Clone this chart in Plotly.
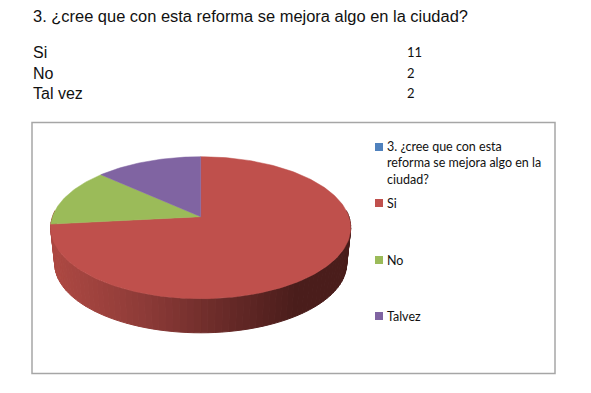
import math
import plotly.graph_objects as go

TITLE = "3. ¿cree que con esta reforma se mejora algo en la ciudad?"
categories = ["Si", "No", "Tal vez"]
values = [11, 2, 2]
legend_labels = ["3. ¿cree que con esta<br>reforma se mejora algo en la<br>ciudad?", "Si", "No", "Talvez"]
legend_colors = ["#4F81BD", "#C0504D", "#9BBB59", "#8064A2"]
slice_colors = ["#BF504C", "#9BBB59", "#8064A2"]

# perspective projection of the pie disc, in page pixels
CX, CY, A, B, K = 200.7, 216.7, 148.2, 69.3, 0.155
CY2, SCALE2 = 253.0, 0.973
PAGE_MARGIN = 8  # the browser's default body margin


def project(theta, cy=CY, scale=1.0):
    u, v = math.sin(theta), math.cos(theta)
    d = 1 + K * v
    return CX + scale * A * u / d, cy - scale * B * v / d


def mix(c1, c2, t):
    return "rgb(%d,%d,%d)" % tuple(round(a + (b - a) * t) for a, b in zip(c1, c2))


fig = go.Figure()
poly = dict(mode="lines", fill="toself", hoverinfo="skip", showlegend=False)

# front wall of the Si slice, shaded from left to right
stops = [(0.0, (172, 72, 66)), (0.3, (140, 58, 55)), (0.6, (100, 40, 38)), (0.82, (74, 29, 27)), (1.0, (74, 29, 27))]


def wall_color(t):
    for (t0, c0), (t1, c1) in zip(stops, stops[1:]):
        if t <= t1:
            return mix(c0, c1, (t - t0) / (t1 - t0))
    return mix(stops[-1][1], stops[-1][1], 0)


N = 80
start, stop = math.radians(85), math.radians(275)
for i in range(N):
    a0 = start + (stop - start) * i / N
    a1 = start + (stop - start) * (i + 1) / N
    p = [project(a0), project(a1), project(a1, CY2, SCALE2), project(a0, CY2, SCALE2)]
    xs, ys = zip(*(p + p[:1]))
    color = wall_color(max(0, min(1, (p[1][0] - 55) / 292)))
    fig.add_trace(go.Scatter(x=list(xs), y=list(ys), line=dict(color=color, width=1), fillcolor=color, **poly))

# top faces
total = sum(values)
angle = 0.0
for value, color in zip(values, slice_colors):
    sweep = 2 * math.pi * value / total
    n = max(8, int(value * 20))
    pts = [project(angle + sweep * j / n) for j in range(n + 1)]
    xs = [CX] + [q[0] for q in pts] + [CX]
    ys = [CY] + [q[1] for q in pts] + [CY]
    fig.add_trace(go.Scatter(x=xs, y=ys, line=dict(color=color, width=0.5), fillcolor=color, **poly))
    angle += sweep

# legend swatches
legend_y = [147, 203, 260, 316]
fig.add_trace(go.Scatter(
    x=[379] * 4, y=legend_y, mode="markers", hoverinfo="skip", showlegend=False,
    marker=dict(symbol="square", size=8, color=legend_colors, line=dict(width=0)),
))

LATO = "Lato, Carlito, sans-serif"
ARIAL = "Liberation Sans, Arial, sans-serif"


def label(x, y, text, font, size, yanchor="middle"):
    fig.add_annotation(x=x, y=y, xref="x", yref="y", text=text, showarrow=False, xanchor="left",
                       yanchor=yanchor, align="left", font=dict(family=font, size=size, color="#111111"),
                       borderpad=0, borderwidth=0)


label(33, 16, TITLE, ARIAL, 16.45)
for y, cat, val in zip([52, 73, 93], categories, values):
    label(33, y, cat, ARIAL, 16)
    label(407, y, str(val), LATO, 13)

# first legend entry spans three lines; the others one
label(386.5, 139, legend_labels[0], LATO, 12.5, yanchor="top")
for y, text in zip(legend_y[1:], legend_labels[1:]):
    label(386.5, y, text, LATO, 12.5)

fig.add_shape(type="rect", xref="x", yref="y", x0=32, x1=555, y0=122.5, y1=373.5,
              line=dict(color="#A6A6A6", width=1.5), fillcolor="rgba(0,0,0,0)", layer="below")

fig.update_layout(
    width=591 - PAGE_MARGIN, height=393 - PAGE_MARGIN, margin=dict(l=0, r=0, t=0, b=0),
    paper_bgcolor="white", plot_bgcolor="white", showlegend=False,
    xaxis=dict(range=[PAGE_MARGIN, 591], visible=False, fixedrange=True),
    yaxis=dict(range=[393, PAGE_MARGIN], visible=False, fixedrange=True),
)
fig.write_html("out.html", config={"displayModeBar": False})
